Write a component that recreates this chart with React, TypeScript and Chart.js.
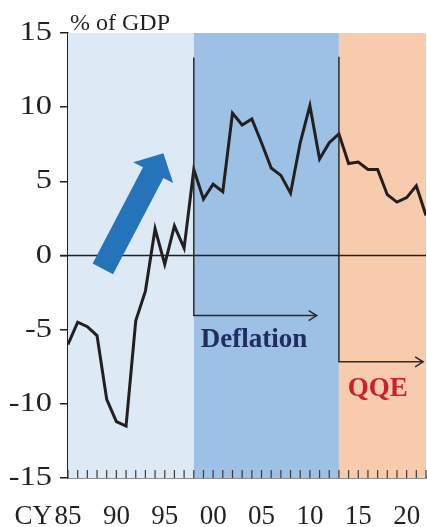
import React, { useEffect, useRef } from "react";
import { Chart, registerables } from "chart.js";

Chart.register(...registerables);

const years = [1985, 1986, 1987, 1988, 1989, 1990, 1991, 1992, 1993, 1994, 1995, 1996, 1997, 1998, 1999, 2000, 2001, 2002, 2003, 2004, 2005, 2006, 2007, 2008, 2009, 2010, 2011, 2012, 2013, 2014, 2015, 2016, 2017, 2018, 2019, 2020, 2021, 2022];
const balance = [-6.0, -4.5, -4.8, -5.4, -9.7, -11.2, -11.5, -4.4, -2.4, 1.8, -0.6, 2.0, 0.5, 5.8, 3.8, 4.8, 4.3, 9.6, 8.8, 9.2, 7.6, 5.9, 5.4, 4.2, 7.6, 10.1, 6.5, 7.6, 8.2, 6.2, 6.3, 5.8, 5.8, 4.1, 3.6, 3.9, 4.7, 2.7];
const xTickLabels = ["85", "90", "95", "00", "05", "10", "15", "20"];
const xTickYears = [1985, 1990, 1995, 2000, 2005, 2010, 2015, 2020];
const yTickValues = [15, 10, 5, 0, -5, -10, -15];
const periods = [
  { from: 1985, to: 1998, color: "#dde9f5" },
  { from: 1998, to: 2013, color: "#9dc1e5" },
  { from: 2013, to: 2022, color: "#f8cbad" },
];
const regimes = [
  { label: "Deflation", x: 1998, top: 13.35, bottom: -4.05, arrowTo: 2010.7, textX: 1998.72, textY: -6.15, color: "#1f2d63" },
  { label: "QQE", x: 2013, top: 13.4, bottom: -7.17, arrowTo: 2021.7, textX: 2013.9, textY: -9.5, color: "#c8222b" },
];
const trendArrow = { fromX: 1988.6, fromY: -0.9, toX: 1994.86, toY: 6.9 };
const yUnit = "% of GDP";

const FONT = "'Liberation Serif', 'Times New Roman', serif";

const overlay = {
  id: "overlay",
  beforeDatasetsDraw(chart: any) {
    const { ctx, chartArea, scales } = chart;
    const x = scales.x, y = scales.y;
    ctx.save();
    for (const p of periods) {
      const x0 = x.getPixelForValue(p.from);
      const x1 = x.getPixelForValue(p.to);
      ctx.fillStyle = p.color;
      ctx.fillRect(x0, chartArea.top, x1 - x0, chartArea.bottom - chartArea.top);
    }
    const y0 = y.getPixelForValue(0);
    ctx.strokeStyle = "#231f20";
    ctx.lineWidth = 1.5;
    ctx.beginPath();
    ctx.moveTo(chartArea.left - 8, y0);
    ctx.lineTo(chartArea.right, y0);
    ctx.stroke();
    ctx.lineWidth = 1.2;
    ctx.strokeStyle = "#3a3a3a";
    for (const yr of years) {
      const px = x.getPixelForValue(yr);
      ctx.beginPath();
      ctx.moveTo(px, chartArea.bottom);
      ctx.lineTo(px, chartArea.bottom - 8);
      ctx.stroke();
    }
    const ax0 = x.getPixelForValue(trendArrow.fromX), ay0 = y.getPixelForValue(trendArrow.fromY);
    const ax1 = x.getPixelForValue(trendArrow.toX), ay1 = y.getPixelForValue(trendArrow.toY);
    const ang = Math.atan2(ay1 - ay0, ax1 - ax0);
    const len = Math.hypot(ax1 - ax0, ay1 - ay0);
    const sw = 11.5, hw = 22.5, hl = 22;
    ctx.translate(ax0, ay0);
    ctx.rotate(ang);
    ctx.fillStyle = "#2574b9";
    ctx.beginPath();
    ctx.moveTo(0, -sw);
    ctx.lineTo(len - hl, -sw);
    ctx.lineTo(len - hl, -hw);
    ctx.lineTo(len, 0);
    ctx.lineTo(len - hl, hw);
    ctx.lineTo(len - hl, sw);
    ctx.lineTo(0, sw);
    ctx.closePath();
    ctx.fill();
    ctx.restore();
  },
  afterDatasetsDraw(chart: any) {
    const { ctx, chartArea, scales } = chart;
    const x = scales.x, y = scales.y;
    ctx.save();
    for (const r of regimes) {
      const px = x.getPixelForValue(r.x);
      const pt = y.getPixelForValue(r.top);
      const pb = y.getPixelForValue(r.bottom);
      const pe = x.getPixelForValue(r.arrowTo);
      ctx.strokeStyle = "#2b2b2b";
      ctx.lineWidth = 1.5;
      ctx.beginPath();
      ctx.moveTo(px, pt);
      ctx.lineTo(px, pb);
      ctx.lineTo(pe, pb);
      ctx.stroke();
      ctx.beginPath();
      ctx.moveTo(pe - 8, pb - 5);
      ctx.lineTo(pe, pb);
      ctx.lineTo(pe - 8, pb + 5);
      ctx.stroke();
      ctx.fillStyle = r.color;
      ctx.font = `bold 27px ${FONT}`;
      ctx.textAlign = "left";
      ctx.textBaseline = "alphabetic";
      ctx.fillText(r.label, x.getPixelForValue(r.textX), y.getPixelForValue(r.textY));
    }
    ctx.fillStyle = "#231f20";
    ctx.font = `24px ${FONT}`;
    ctx.textAlign = "left";
    ctx.textBaseline = "alphabetic";
    ctx.fillText(yUnit, chartArea.left + 2, 30);
    ctx.font = `27px ${FONT}`;
    ctx.textAlign = "center";
    xTickYears.forEach((yr, i) => {
      ctx.fillText(xTickLabels[i], x.getPixelForValue(yr), 524);
    });
    ctx.textAlign = "right";
    ctx.fillText("CY", x.getPixelForValue(1985) - 16, 524);
    // y labels, slightly widened like the reference
    ctx.textBaseline = "middle";
    ctx.textAlign = "right";
    for (const v of yTickValues) {
      const py = y.getPixelForValue(v);
      ctx.save();
      ctx.translate(chartArea.left - 16, py);
      ctx.scale(1.2, 1);
      ctx.fillText(String(v), 0, 0);
      ctx.restore();
    }
    ctx.restore();
  },
};

export default function App() {
  const ref = useRef<HTMLCanvasElement>(null);
  useEffect(() => {
    const chart = new Chart(ref.current!, {
      type: "line",
      data: {
        datasets: [
          {
            data: years.map((yr, i) => ({ x: yr, y: balance[i] })),
            borderColor: "#231f20",
            borderWidth: 3,
            pointRadius: 0,
            tension: 0,
            fill: false,
          },
        ],
      },
      options: {
        animation: false,
        responsive: false,
        events: [],
        layout: { padding: { top: 33, right: 1, left: 0, bottom: 0 } },
        plugins: { legend: { display: false }, tooltip: { enabled: false } },
        scales: {
          x: {
            type: "linear",
            min: 1985,
            max: 2022,
            grid: { display: false },
            border: { display: true, color: "#231f20", width: 1.5 },
            ticks: { display: false },
            afterFit: (s: any) => { s.height = 49; },
          },
          y: {
            min: -15,
            max: 15,
            grid: { drawOnChartArea: false, drawTicks: true, tickLength: 8, color: "#231f20", lineWidth: 1.5 },
            border: { display: true, color: "#231f20", width: 1.5 },
            ticks: { stepSize: 5, display: false },
            afterFit: (s: any) => { s.width = 68; },
          },
        },
      },
      plugins: [overlay],
    });
    return () => chart.destroy();
  }, []);
  return (
    <div style={{ position: "fixed", left: 0, top: 0, width: 427, height: 527, background: "#fff" }}>
      <canvas ref={ref} width={427} height={527} style={{ width: 427, height: 527 }} />
    </div>
  );
}
